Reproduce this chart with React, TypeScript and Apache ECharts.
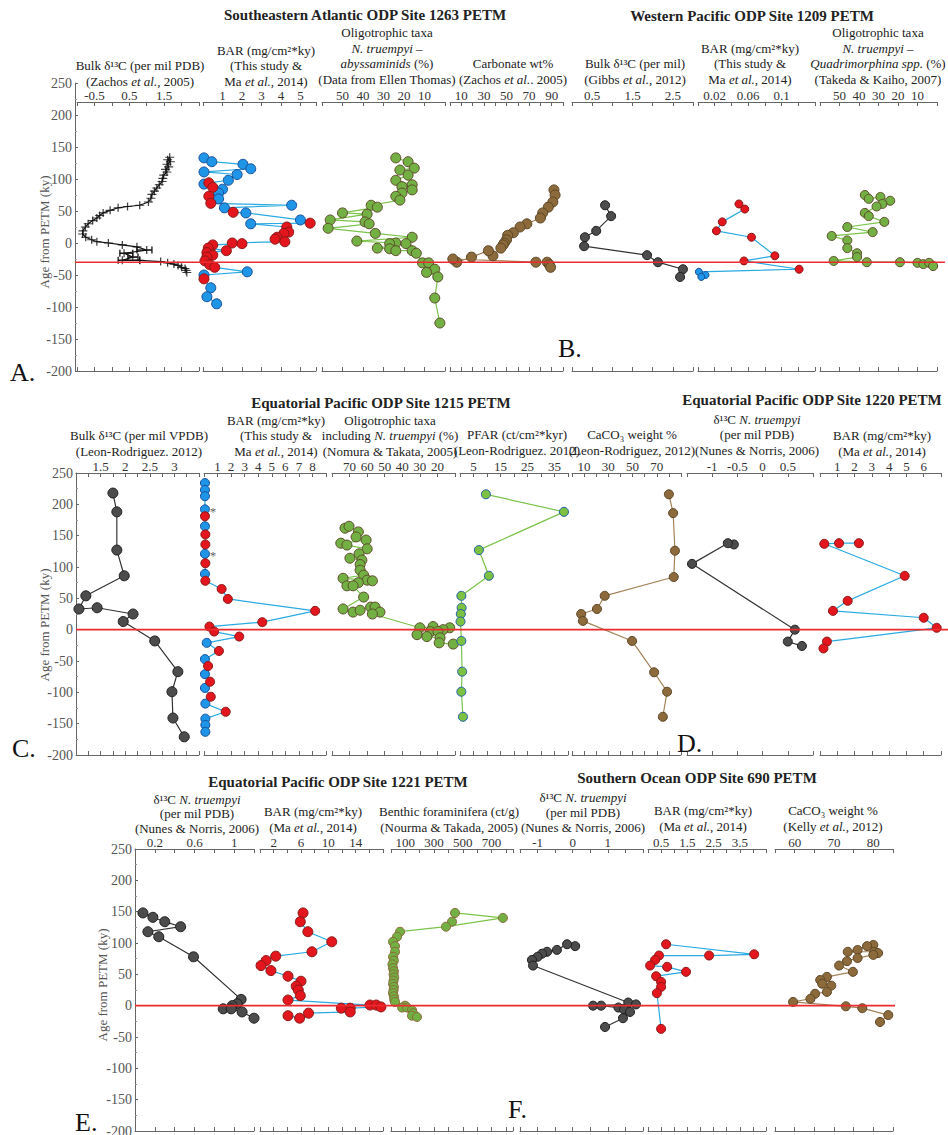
import React, { useEffect, useRef } from 'react';
import * as echarts from 'echarts';

const FONT = 'Liberation Serif, DejaVu Serif, serif';

// ---------------- DATA ([x value, age from PETM (ky)]) ----------------
// Row A/B reference line age, Row C/D, Row E/F
const petmLineAge = [-30, 0, 0];
const ageTicks = { min: -200, max: 250, step: 50 };

// A. Site 1263
const d13c1263 = [
  [1.66, 134], [1.6, 130], [1.68, 127], [1.58, 123], [1.63, 119], [1.54, 115], [1.58, 111], [1.49, 106],
  [1.46, 101], [1.44, 96], [1.36, 91], [1.29, 86], [1.22, 81], [1.15, 76], [1.12, 70], [1.05, 64],
  [0.8, 59], [0.45, 57], [0.18, 55], [-0.05, 51], [-0.25, 47], [-0.35, 43], [-0.43, 39], [-0.55, 35],
  [-0.68, 30], [-0.76, 25], [-0.83, 19], [-0.84, 14], [-0.75, 9], [-0.58, 5], [-0.43, 2], [-0.1, 0],
  [0.3, -3], [0.72, -6], [1.0, -11], [0.35, -16], [0.6, -22], [0.3, -27], [0.8, -27], [1.4, -29],
  [1.6, -31], [1.78, -33], [1.9, -35], [2.0, -38], [2.1, -40], [2.13, -43], [2.15, -46],
];
const d13c1263Err = [[0.72, 1.15, -11], [0.23, 0.6, -16], [0.46, 0.75, -22], [0.18, 0.8, -27]];
const bar1263Blue = [
  [0.05, 133], [0.45, 127], [2.05, 123], [2.45, 116], [0.05, 111], [1.75, 107], [1.3, 98], [0.05, 92],
  [1.0, 84], [0.8, 78], [0.8, 69], [4.55, 59], [1.1, 55], [2.2, 47], [5.0, 36], [2.45, 30],
  [2.27, -45], [0.05, -50], [0.4, -70], [0.2, -84], [0.7, -95],
];
const bar1263Red = [
  [0.3, 94], [0.5, 87], [0.3, 73], [0.4, 62], [1.55, 48], [5.5, 31], [4.3, 25], [4.4, 17], [4.15, 15],
  [3.8, 9], [3.7, 6], [4.2, 2], [1.5, 0], [2.0, -1], [0.5, -3], [0.27, -8], [1.2, -12], [0.2, -15],
  [0.5, -19], [0.2, -22], [0.1, -28], [0.35, -34], [0.6, -38], [0.05, -56],
];
const oligo1263 = [
  [24, 133], [18, 127], [15, 117], [22, 114], [18, 106], [24, 98], [16, 91], [21, 88], [16, 83], [21, 78],
  [24, 73], [22, 67], [36, 59], [33, 56], [50, 47], [38, 45], [56, 36], [39, 33], [37, 30], [57, 23],
  [34, 15], [16, 9], [43, 3], [24, 0], [27, -1], [19, -1], [33, -8], [27, -9], [24, -12], [16, -12],
  [14, -16], [11, -31], [8, -31], [5, -41], [9, -46], [3.5, -53], [5, -86], [2.5, -125],
];
const carb1263 = [
  [92, 83], [93, 75], [91, 64], [87, 56], [82, 47], [80, 39], [68, 30], [62, 25], [56, 16], [51, 12],
  [50, 5], [48, 0], [47, -3], [45, -8], [38, -20], [34, -12], [19, -22], [6, -30], [2.5, -25],
  [76, -30], [86, -30], [88, -34], [89, -38],
];

// B. Site 1209
const d13c1209 = [[0.82, 59], [0.97, 42], [0.6, 19], [0.32, 9], [0.3, -5], [1.86, -19], [2.13, -30], [2.75, -41], [2.68, -53]];
const bar1209Red = [[0.049, 61], [0.056, 53], [0.029, 33], [0.022, 19], [0.064, 9], [0.092, -20], [0.055, -28], [0.121, -41]];
const bar1209Blue = [[0.001, -45], [0.009, -50], [0.004, -53]];
const oligo1209 = [
  [37, 75], [35, 69], [29, 72], [24, 66], [28, 61], [31, 57], [37, 47], [35, 42], [27, 33], [46, 25],
  [33, 17], [54, 11], [46, 4], [46, -8], [41, -16], [41, -22], [53, -28], [36, -30], [19, -30], [10, -31],
  [7, -33], [4, -31], [2, -36],
];

// C. Site 1215
const d13c1215 = [
  [1.75, 218], [1.83, 188], [1.83, 127], [1.98, 86], [1.2, 54], [1.06, 33], [1.43, 35], [2.16, 25],
  [1.96, 13], [2.6, -18], [3.07, -67], [2.95, -99], [2.97, -141], [3.2, -171],
];
const bar1215Blue = [
  [0.07, 234], [0.07, 223], [0.07, 213], [0.07, 192], [0.07, 165], [0.07, 121], [0.07, 89], [0.2, -21],
  [0.07, -47], [0.07, -71], [0.07, -93], [0.1, -118], [0.1, -142], [0.1, -152], [0.1, -163],
];
const bar1215Red = [
  [0.07, 181], [0.1, 152], [0.1, 136], [0.1, 106], [0.1, 78], [1.3, 65], [1.76, 49], [8.2, 30], [4.3, 12],
  [0.4, 5], [0.75, -3], [2.6, -11], [1.1, -34], [0.3, -58], [0.45, -83], [0.5, -107], [1.6, -131],
];
const bar1215Marks = [[0.66, 188], [0.66, 119]];
const oligo1215 = [
  [72.6, 162], [70.3, 165], [65, 156], [66.3, 148], [60.6, 143], [75, 138], [71.5, 135], [60, 129],
  [64.6, 121], [69.8, 114], [63, 111], [64, 104], [64, 95], [62, 87], [73.7, 82], [60, 79], [57, 78],
  [65, 75], [71.5, 70], [68, 70], [62, 52], [73.7, 33], [68, 28], [64, 31], [58, 36], [55.5, 36],
  [52.7, 28], [57, 25], [30, 3], [22.5, 5], [13, 3], [16.8, 0], [24, -3], [19.7, -3], [31.6, -8],
  [26, -11], [18.5, -13], [19, -21], [11, -23],
];
const pfar1215 = [[9.6, 216], [38.5, 188], [7, 127], [10.7, 86], [0.5, 54], [0.6, 35], [0.3, 25], [0.2, 13], [0.5, -18], [0.8, -67], [0.5, -99], [1.1, -139]];
const caco1215 = [[80, 216], [83.5, 186], [85, 126], [84, 84], [27, 54], [20.6, 33], [7.6, 25], [9, 14], [49.6, -18], [67.8, -68], [78.5, -99], [75, -139]];

// D. Site 1220
const d13c1220 = [[-0.57, 136], [-0.69, 138], [-1.4, 105], [0.64, 0], [0.5, -19], [0.78, -26]];
const bar1220 = [[2.25, 138], [1.1, 138], [0.25, 137], [4.9, 86], [1.6, 46], [0.75, 30], [6.0, 19], [6.75, 3], [0.4, -19], [0.2, -30]];

// E. Site 1221
const d13c1221 = [[0.08, 148], [0.18, 141], [0.3, 134], [0.46, 126], [0.13, 118], [0.24, 110], [0.59, 78], [1.07, 10], [1.03, 3], [0.98, 0], [0.89, -5], [0.97, -5], [1.08, -10], [1.2, -20]];
const bar1221 = [
  [6.3, 148], [5.9, 134], [7.0, 118], [10.5, 102], [7.6, 86], [2.3, 79], [0.9, 72], [0.15, 64], [1.6, 56],
  [4.1, 47], [6.0, 39], [5.3, 31], [5.6, 25], [5.9, 16], [4.1, 9], [16.1, 1], [17.0, 1], [17.7, -2],
  [13.2, -4], [11.9, -4], [13.2, -10], [7.1, -12], [5.8, -20], [4.1, -16],
];
const forams1221 = [
  [425, 134], [446, 148], [780, 140], [383, 126], [63, 118], [42, 110], [14, 102], [28, 95], [28, 86],
  [14, 78], [20, 72], [10, 66], [14, 60], [20, 55], [18, 50], [22, 45], [18, 40], [14, 35], [20, 30],
  [18, 25], [14, 20], [20, 15], [22, 10], [28, 6], [98, 0], [77, -3], [112, -3], [146, -7], [153, -12],
  [146, -16], [181, -18],
];

// F. Site 690
const d13c690 = [
  [0.07, 95], [-0.16, 98], [-0.45, 89], [-0.73, 86], [-0.87, 83], [-1.0, 78], [-1.16, 73], [-1.13, 64],
  [1.58, 5], [1.8, 2], [0.58, 0], [0.81, 0], [1.3, -3], [1.46, -6], [1.63, -10], [1.43, -20], [0.92, -34],
];
const bar690 = [[0.69, 98], [4.05, 82], [2.33, 80], [0.42, 80], [0.27, 73], [0.08, 64], [0.73, 62], [1.45, 54], [0.31, 47], [0.5, 38], [0.5, 30], [0.34, 20], [0.5, -37]];
const caco690 = [
  [80, 97], [78.4, 95], [76, 89], [73.5, 86], [80.2, 86], [81.2, 84], [80, 81], [76, 76], [73.3, 71],
  [71.3, 64], [74.8, 54], [68.2, 46], [66.5, 41], [67, 35], [69.3, 32], [68.2, 22], [65.2, 19], [64, 11],
  [59.6, 6], [73, -1], [77.2, -4], [83.8, -15], [81.7, -26],
];

// ---------------- STYLE ----------------
const C = {
  blue: '#1e95e6', blueB: '#1a4f9a', red: '#e3161d', redB: '#8a1717', barLine: '#2aaae2',
  green: '#72b043', greenB: '#5e4b2b', greenLine: '#7cc34b',
  brown: '#8c6a3b', brownB: '#5d4726', brownLine: '#a3845a',
  gray: '#4c4c4c', grayB: '#1e1e1e', grayLine: '#333',
  pfarFill: '#7cc142', pfarB: '#1f5fa8', axis: '#666', text: '#222',
};

const byAge = (...arrs: number[][][]) => arrs.flat().slice().sort((a, b) => b[1] - a[1]);

type Layer = { kind: 'line' | 'dots' | 'plus' | 'err' | 'star'; data: number[][]; color?: string; border?: string; size?: number };
type Col = { left: number; right: number; min: number; max: number; interval: number; ticks: string[]; inverse?: boolean; layers: Layer[] };
type Row = { top: number; bottom: number; axisTop: number; yLeft: number; yRight: number; cols: Col[] };

const line = (data: number[][], color: string): Layer => ({ kind: 'line', data, color });
const dots = (data: number[][], color: string, border: string, size = 9): Layer => ({ kind: 'dots', data, color, border, size });

const rows: Row[] = [
  {
    top: 83, bottom: 371, axisTop: 102, yLeft: 75, yRight: 945,
    cols: [
      { left: 77, right: 199, min: -1, max: 2.5, interval: 0.5, ticks: ['-0.5', '0.5', '1.5'],
        layers: [line(d13c1263, '#111'), { kind: 'err', data: d13c1263Err }, { kind: 'plus', data: d13c1263 }] },
      { left: 203, right: 316, min: 0, max: 5.8, interval: 1, ticks: ['1', '2', '3', '4', '5'],
        layers: [line(byAge(bar1263Blue, bar1263Red), C.barLine), dots(bar1263Blue, C.blue, C.blueB, 10), dots(bar1263Red, C.red, C.redB, 10)] },
      { left: 322, right: 445, min: 0, max: 60, interval: 10, inverse: true, ticks: ['50', '40', '30', '20', '10'],
        layers: [line(oligo1263, C.greenLine), dots(oligo1263, C.green, C.greenB, 10)] },
      { left: 450, right: 563, min: 0, max: 100, interval: 10, ticks: ['10', '30', '50', '70', '90'],
        layers: [line(carb1263, C.brownLine), dots(carb1263, C.brown, C.brownB, 10)] },
      { left: 572, right: 693, min: 0, max: 3, interval: 0.5, ticks: ['0.5', '1.5', '2.5'],
        layers: [line(d13c1209, C.grayLine), dots(d13c1209, C.gray, C.grayB, 9)] },
      { left: 698, right: 815, min: 0, max: 0.14, interval: 0.02, ticks: ['0.02', '0.06', '0.1'],
        layers: [line(byAge(bar1209Red, bar1209Blue), C.barLine), dots(bar1209Red, C.red, C.redB, 8), dots(bar1209Blue, C.blue, C.blueB, 7)] },
      { left: 820, right: 937, min: 0, max: 60, interval: 10, inverse: true, ticks: ['50', '40', '30', '20', '10'],
        layers: [line(oligo1209, C.greenLine), dots(oligo1209, C.green, C.greenB, 9)] },
    ],
  },
  {
    top: 473, bottom: 755, axisTop: 473, yLeft: 76, yRight: 948,
    cols: [
      { left: 76, right: 199, min: 1, max: 3.5, interval: 0.25, ticks: ['1.5', '2', '2.5', '3'],
        layers: [line(d13c1215, C.grayLine), dots(d13c1215, C.gray, C.grayB, 10)] },
      { left: 204, right: 326, min: 0, max: 9, interval: 1, ticks: ['1', '2', '3', '4', '5', '6', '7', '8'],
        layers: [line(byAge(bar1215Blue, bar1215Red), C.barLine), dots(bar1215Blue, C.blue, C.blueB, 9), dots(bar1215Red, C.red, C.redB, 9), { kind: 'star', data: bar1215Marks }] },
      { left: 332, right: 455, min: 10, max: 80, interval: 10, inverse: true, ticks: ['70', '60', '50', '40', '30', '20'],
        layers: [line(oligo1215, C.greenLine), dots(oligo1215, C.green, C.greenB, 10)] },
      { left: 460, right: 568, min: 0, max: 40, interval: 5, ticks: ['5', '15', '25', '35'],
        layers: [line(pfar1215, C.greenLine), dots(pfar1215, C.pfarFill, C.pfarB, 9)] },
      { left: 572, right: 681, min: 0, max: 90, interval: 10, ticks: ['10', '30', '50', '70'],
        layers: [line(caco1215, C.brownLine), dots(caco1215, C.brown, C.brownB, 9)] },
      { left: 687, right: 813, min: -1.5, max: 1, interval: 0.5, ticks: ['-1', '-0.5', '0', '0.5'],
        layers: [line(d13c1220, C.grayLine), dots(d13c1220, C.gray, C.grayB, 9)] },
      { left: 820, right: 941, min: 0, max: 7, interval: 1, ticks: ['1', '2', '3', '4', '5', '6'],
        layers: [line(bar1220, C.barLine), dots(bar1220, C.red, C.redB, 9)] },
    ],
  },
  {
    top: 849, bottom: 1131, axisTop: 849, yLeft: 135, yRight: 895,
    cols: [
      { left: 135, right: 254, min: 0, max: 1.2, interval: 0.2, ticks: ['0.2', '0.6', '1'],
        layers: [line(d13c1221, C.grayLine), dots(d13c1221, C.gray, C.grayB, 10)] },
      { left: 260, right: 383, min: 0, max: 18, interval: 2, ticks: ['2', '6', '10', '14'],
        layers: [line(bar1221, C.barLine), dots(bar1221, C.red, C.redB, 10)] },
      { left: 391, right: 513, min: 0, max: 850, interval: 100, ticks: ['100', '300', '500', '700'],
        layers: [line(forams1221, C.greenLine), dots(forams1221, C.green, '#8b6b3a', 9)] },
      { left: 520, right: 643, min: -1.5, max: 2, interval: 0.5, ticks: ['-1', '0', '1'],
        layers: [line(d13c690, C.grayLine), dots(d13c690, C.gray, C.grayB, 9)] },
      { left: 648, right: 766, min: 0, max: 4.5, interval: 0.5, ticks: ['0.5', '1.5', '2.5', '3.5'],
        layers: [line(bar690, C.barLine), dots(bar690, C.red, C.redB, 9)] },
      { left: 775, right: 893, min: 55, max: 85, interval: 5, ticks: ['60', '70', '80'],
        layers: [line(caco690, C.brownLine), dots(caco690, C.brown, C.brownB, 9)] },
    ],
  },
];

// headers: [center x, bottom y, lines, line height]
const headers: [number, number, string[], number][] = [
  [140, 89, ['Bulk δ¹³C (per mil PDB)', '(Zachos {i|et al.}, 2005)'], 15.5],
  [266, 89, ['BAR (mg/cm²*ky)', '(This study &', 'Ma {i|et al.}, 2014)'], 15.5],
  [387, 87, ['Oligotrophic taxa', '{i|N. truempyi} –', '{i|abyssaminids} (%)', '(Data from Ellen Thomas)'], 15.5],
  [513, 87, ['Carbonate wt%', '(Zachos {i|et al.}. 2005)'], 15.5],
  [635, 87, ['Bulk δ¹³C (per mil)', '(Gibbs {i|et al.}, 2012)'], 15.5],
  [750, 87, ['BAR (mg/cm²*ky)', '(This study &', 'Ma {i|et al.}, 2014)'], 15.5],
  [878, 87, ['Oligotrophic taxa', '{i|N. truempyi} –', '{i|Quadrimorphina spp.} (%)', '(Takeda & Kaiho, 2007)'], 15.5],
  [139, 459, ['Bulk δ¹³C (per mil VPDB)', '(Leon-Rodriguez. 2012)'], 15.5],
  [276, 459, ['BAR (mg/cm²*ky)', '(This study &', 'Ma {i|et al.}, 2014)'], 15.5],
  [390, 459, ['Oligotrophic taxa', 'including {i|N. truempyi} (%)', '(Nomura & Takata, 2005)'], 15.5],
  [517, 458, ['PFAR (ct/cm²*kyr)', '(Leon-Rodriguez. 2012)'], 15.5],
  [632, 458, ['CaCO₃ weight %', '(Leon-Rodriguez, 2012)'], 15.5],
  [757, 458, ['δ¹³C {i|N. truempyi}', '(per mil PDB)', '(Nunes & Norris, 2006)'], 15.5],
  [882, 459, ['BAR (mg/cm²*ky)', '(Ma {i|et al.}, 2014)'], 15.5],
  [197, 836, ['δ¹³C {i|N. truempyi}', '(per mil PDB)', '(Nunes & Norris, 2006)'], 14.8],
  [313, 835, ['BAR (mg/cm²*ky)', '(Ma {i|et al.}, 2014)'], 15.5],
  [449, 835, ['Benthic foraminifera (ct/g)', '(Nourma & Takada, 2005)'], 15.5],
  [583, 835, ['δ¹³C {i|N. truempyi}', '(per mil PDB)', '(Nunes & Norris, 2006)'], 15.2],
  [703, 834, ['BAR (mg/cm²*ky)', '(Ma {i|et al.}, 2014)'], 15.5],
  [833, 834, ['CaCO₃ weight %', '(Kelly {i|et al.}, 2012)'], 15.5],
];
const titles: [number, number, string][] = [
  [365, 15, 'Southeastern Atlantic ODP Site 1263 PETM'],
  [752, 16, 'Western Pacific ODP Site 1209 PETM'],
  [381, 403, 'Equatorial Pacific ODP Site 1215 PETM'],
  [812, 400, 'Equatorial Pacific ODP Site 1220 PETM'],
  [338, 782, 'Equatorial Pacific ODP Site 1221 PETM'],
  [697, 778, 'Southern Ocean ODP Site 690 PETM'],
];
const letters: [number, number, string][] = [
  [10, 372, 'A.'], [558, 348, 'B.'], [12, 748, 'C.'], [677, 743, 'D.'], [75, 1122, 'E.'], [508, 1109, 'F.'],
];
const yNames: [number, number][] = [[44, 232], [44, 625], [102, 985]];

function buildOption() {
  const grid: any[] = [];
  const xAxis: any[] = [];
  const yAxis: any[] = [];
  const series: any[] = [];
  const axisLineStyle = { color: C.axis, width: 1 };
  const span = ageTicks.max - ageTicks.min;

  rows.forEach((row, ri) => {
    const gi = grid.length;
    grid.push({ left: row.yLeft, top: row.top, width: row.yRight - row.yLeft, height: row.bottom - row.top, outerBoundsMode: 'none', containLabel: false });
    xAxis.push({ type: 'value', gridIndex: gi, min: 0, max: 1, show: false });
    yAxis.push({
      type: 'value', gridIndex: gi, min: ageTicks.min, max: ageTicks.max, interval: ageTicks.step,
      axisLine: { show: true, onZero: false, lineStyle: axisLineStyle },
      axisTick: { show: true, inside: true, length: 3, lineStyle: axisLineStyle },
      minorTick: { show: true, splitNumber: 2, length: 2, lineStyle: { color: '#999' } },
      axisLabel: { color: '#555', fontSize: 14, fontFamily: FONT, margin: 3 },
      splitLine: { show: false }, minorSplitLine: { show: false },
    });
    series.push({
      type: 'line', xAxisIndex: xAxis.length - 1, yAxisIndex: yAxis.length - 1,
      data: [[0, petmLineAge[ri]], [1, petmLineAge[ri]]], symbol: 'none', silent: true,
      lineStyle: { color: '#ec2a2f', width: 1.6 }, z: 6,
    });

    // column grids start at the column axis line; keep the same age scale as the row
    const pxPerKy = (row.bottom - row.top) / span;
    const colMax = ageTicks.max - (row.axisTop - row.top) / pxPerKy;

    row.cols.forEach((col) => {
      const cg = grid.length;
      grid.push({ left: col.left, top: row.axisTop, width: col.right - col.left, height: row.bottom - row.axisTop, outerBoundsMode: 'none', containLabel: false });
      const fmt = (v: number) => {
        const t = col.ticks.find((s) => Math.abs(parseFloat(s) - v) < 1e-7);
        return t === undefined ? '' : t;
      };
      const base = {
        type: 'value', gridIndex: cg, min: col.min, max: col.max, interval: col.interval, inverse: !!col.inverse,
        axisLine: { show: true, onZero: false, lineStyle: axisLineStyle },
        axisTick: { show: true, inside: true, length: 4, lineStyle: axisLineStyle },
        splitLine: { show: false },
      };
      const topIdx = xAxis.length;
      xAxis.push({ ...base, position: 'top',
        axisLabel: { show: true, formatter: fmt, fontSize: 13, fontFamily: FONT, color: '#333', margin: 0, showMinLabel: true, showMaxLabel: true } });
      xAxis.push({ ...base, position: 'bottom', axisLabel: { show: false } });
      const yi = yAxis.length;
      yAxis.push({ type: 'value', gridIndex: cg, min: ageTicks.min, max: colMax, show: false });

      col.layers.forEach((L) => {
        const common = { xAxisIndex: topIdx, yAxisIndex: yi };
        if (L.kind === 'line') {
          series.push({ ...common, type: 'line', data: L.data, symbol: 'none', silent: true, lineStyle: { color: L.color, width: 1.2 }, z: 2 });
        } else if (L.kind === 'dots') {
          series.push({ ...common, type: 'scatter', data: L.data, symbol: 'circle', symbolSize: L.size, silent: true,
            itemStyle: { color: L.color, borderColor: L.border, borderWidth: 1, opacity: 1 }, z: 3 });
        } else if (L.kind === 'plus') {
          series.push({ ...common, type: 'scatter', data: L.data, silent: true,
            symbol: 'path://M0 4.3H10V5.7H0Z M4.3 0H5.7V10H4.3Z', symbolSize: [9, 8], itemStyle: { color: '#111' }, z: 3 });
        } else if (L.kind === 'err') {
          series.push({ ...common, type: 'custom', data: L.data, silent: true, encode: { x: [0, 1], y: 2 }, z: 3,
            renderItem: (_p: any, api: any) => {
              const a = api.coord([api.value(0), api.value(2)]);
              const b = api.coord([api.value(1), api.value(2)]);
              const st = { stroke: '#111', lineWidth: 1.3 };
              return { type: 'group', children: [
                { type: 'line', shape: { x1: a[0], y1: a[1], x2: b[0], y2: b[1] }, style: st },
                { type: 'line', shape: { x1: a[0], y1: a[1] - 3.5, x2: a[0], y2: a[1] + 3.5 }, style: st },
                { type: 'line', shape: { x1: b[0], y1: b[1] - 3.5, x2: b[0], y2: b[1] + 3.5 }, style: st },
              ] };
            } });
        } else if (L.kind === 'star') {
          series.push({ ...common, type: 'scatter', data: L.data, symbolSize: 1, silent: true, itemStyle: { color: 'rgba(0,0,0,0)' },
            label: { show: true, formatter: '*', position: 'inside', fontSize: 13, fontFamily: FONT, color: '#333' }, z: 4 });
        }
      });
    });
  });

  const graphic: any[] = [];
  headers.forEach(([x, y, lines, lh]) => {
    const rich = { i: { fontStyle: 'italic', fontSize: 13, fontFamily: FONT, fill: C.text, lineHeight: lh } };
    graphic.push({ type: 'text', x, y, silent: true, z: 10,
      style: { text: lines.join('\n'), rich, align: 'center', verticalAlign: 'bottom', font: '13px ' + FONT, fontSize: 13, fontFamily: FONT, fill: C.text, lineHeight: lh } });
  });
  titles.forEach(([x, y, t]) => {
    graphic.push({ type: 'text', x, y, silent: true, z: 10,
      style: { text: t, align: 'center', verticalAlign: 'middle', font: 'bold 15px ' + FONT, fontSize: 15, fontWeight: 'bold', fontFamily: FONT, fill: '#222' } });
  });
  letters.forEach(([x, y, t]) => {
    graphic.push({ type: 'text', x, y, silent: true, z: 10,
      style: { text: t, align: 'left', verticalAlign: 'middle', font: '26px ' + FONT, fontSize: 26, fontFamily: FONT, fill: '#111' } });
  });
  yNames.forEach(([x, y]) => {
    graphic.push({ type: 'text', x, y, rotation: Math.PI / 2, silent: true, z: 10,
      style: { text: 'Age from PETM (ky)', align: 'center', verticalAlign: 'middle', font: '13px ' + FONT, fontSize: 13, fontFamily: FONT, fill: '#555' } });
  });

  return { animation: false, backgroundColor: '#fff', textStyle: { fontFamily: FONT }, grid, xAxis, yAxis, series, graphic };
}

export default function App() {
  const ref = useRef<HTMLDivElement>(null);
  useEffect(() => {
    if (!ref.current) return;
    const chart = echarts.init(ref.current, undefined, { renderer: 'svg', width: 948, height: 1135 });
    chart.setOption(buildOption() as any);
    return () => chart.dispose();
  }, []);
  return <div ref={ref} style={{ position: 'absolute', left: 0, top: 0, width: 948, height: 1135, background: '#fff' }} />;
}
